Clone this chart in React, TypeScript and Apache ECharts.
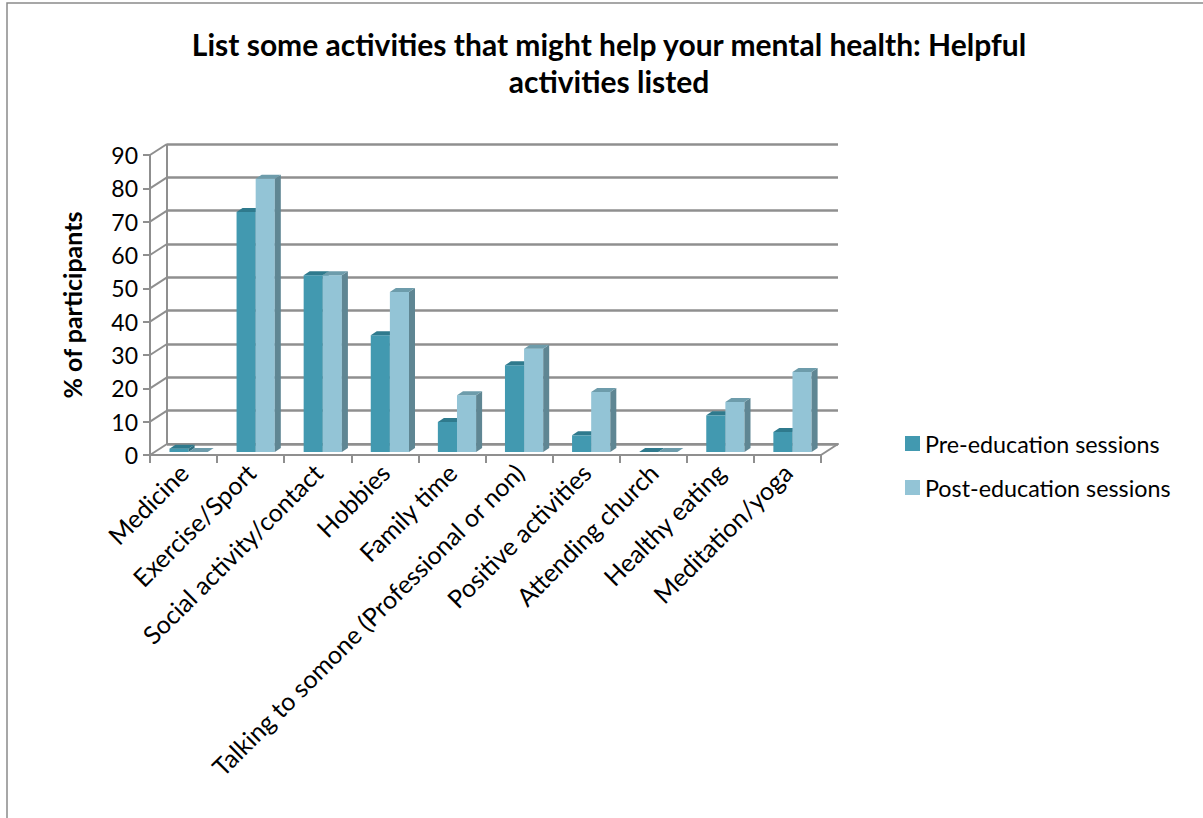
import React, { useEffect, useRef } from "react";
import * as echarts from "echarts";

const categories = [
  "Medicine",
  "Exercise/Sport",
  "Social activity/contact",
  "Hobbies",
  "Family time",
  "Talking to somone (Professional or non)",
  "Positive activities",
  "Attending church",
  "Healthy eating",
  "Meditation/yoga",
];
const preValues = [1, 72, 53, 35, 9, 26, 5, 0, 11, 6];
const postValues = [0, 82, 53, 48, 17, 31, 18, 0, 15, 24];
const seriesNames = ["Pre-education sessions", "Post-education sessions"];
const yTicks = [0, 10, 20, 30, 40, 50, 60, 70, 80, 90];

const FONT = "Lato, 'Open Sans', 'Noto Sans', sans-serif";
const GRID = "#8f8f8f";
const DX = 17;
const DY = -11;

const palettes = [
  { front: "#4299b0", top: "#2f7a8d", side: "#2f6f80" },
  { front: "#93c4d6", top: "#6d9cab", side: "#5f8693" },
];

function makeBarRender(which: number) {
  return (params: any, api: any) => {
    const idx = api.value(0);
    const val = api.value(1);
    const bw = api.size([1, 0])[0];
    const c = api.coord([idx, 0]);
    const t = api.coord([idx, val]);
    const w = bw * 0.285;
    const shift = bw * 0.075;
    const x0 = which === 0 ? c[0] - w + shift : c[0] + shift;
    const yb = c[1] - 3;
    const yt = t[1] - 3;
    const d = 6;
    const e = -4;
    const pal = palettes[which];
    const children: any[] = [];
    if (yb - yt > 0.5) {
      children.push({
        type: "rect",
        shape: { x: x0, y: yt, width: w, height: yb - yt },
        style: { fill: pal.front },
      });
      children.push({
        type: "polygon",
        shape: { points: [[x0 + w, yt], [x0 + w + d, yt + e], [x0 + w + d, yb + e], [x0 + w, yb]] },
        style: { fill: pal.side },
      });
    }
    children.push({
      type: "polygon",
      shape: { points: [[x0, yt], [x0 + d, yt + e], [x0 + w + d, yt + e], [x0 + w, yt]] },
      style: { fill: pal.top },
    });
    return { type: "group", children };
  };
}

function frameRender(params: any, api: any) {
  const bw = api.size([1, 0])[0];
  const n = categories.length;
  const left = api.coord([0, 0])[0] - bw / 2;
  const right = api.coord([n - 1, 0])[0] + bw / 2;
  const children: any[] = [];
  yTicks.forEach((v) => {
    const y = api.coord([0, v])[1];
    children.push({
      type: "line",
      shape: { x1: left, y1: y, x2: left + DX, y2: y + DY },
      style: { stroke: GRID, lineWidth: 2 },
    });
  });
  const y0 = api.coord([0, 0])[1];
  const y90 = api.coord([0, 90])[1];
  children.push({
    type: "line",
    shape: { x1: left + DX, y1: y0 + DY, x2: left + DX, y2: y90 + DY },
    style: { stroke: GRID, lineWidth: 2 },
  });
  children.push({
    type: "line",
    shape: { x1: right, y1: y0, x2: right + DX, y2: y0 + DY },
    style: { stroke: GRID, lineWidth: 2 },
  });
  return { type: "group", children };
}

export default function App() {
  const ref = useRef<HTMLDivElement>(null);
  useEffect(() => {
    if (!ref.current) return;
    const chart = echarts.init(ref.current, undefined, { renderer: "svg" });
    const gridLeft = 150;
    const gridTop = 155;
    const gridW = 671;
    const gridH = 300;
    chart.setOption({
      animation: false,
      backgroundColor: "#ffffff",
      graphic: [
        {
          type: "rect",
          shape: { x: 7, y: 3, width: 1300, height: 900 },
          style: { fill: "none", stroke: "#8a8a8a", lineWidth: 1.5 },
          silent: true,
        },
        {
          type: "text",
          x: 609,
          y: 25,
          style: {
            text: "List some activities that might help your mental health: Helpful\nactivities listed",
            font: `bold 30px ${FONT}`,
            fill: "#000",
            textAlign: "center",
            lineHeight: 37,
          },
        },
      ],
      legend: {
        orient: "vertical",
        left: 900,
        top: 427,
        itemGap: 21,
        itemWidth: 15,
        itemHeight: 15,
        icon: "rect",
        textStyle: { fontSize: 23.3, fontFamily: FONT, color: "#000" },
        data: [
          { name: seriesNames[0], itemStyle: { color: palettes[0].front } },
          { name: seriesNames[1], itemStyle: { color: palettes[1].front } },
        ],
      },
      grid: [
        { left: gridLeft, top: gridTop, width: gridW, height: gridH },
        { left: gridLeft + DX, top: gridTop + DY, width: gridW, height: gridH },
      ],
      xAxis: [
        {
          type: "category",
          gridIndex: 0,
          data: categories,
          boundaryGap: true,
          axisLine: { show: true, lineStyle: { color: GRID, width: 2 } },
          axisTick: { show: true, interval: 0, length: 8, lineStyle: { color: GRID, width: 2 } },
          axisLabel: {
            interval: 0,
            rotate: 45,
            margin: 13,
            fontSize: 25,
            fontFamily: FONT,
            color: "#000",
          },
        },
        {
          type: "category",
          gridIndex: 1,
          data: categories,
          show: true,
          axisLine: { show: true, lineStyle: { color: GRID, width: 2 } },
          axisTick: { show: false },
          axisLabel: { show: false },
        },
      ],
      yAxis: [
        {
          type: "value",
          gridIndex: 0,
          min: 0,
          max: 90,
          interval: 10,
          name: "% of participants",
          nameLocation: "middle",
          nameGap: 66,
          nameRotate: 90,
          nameTextStyle: { fontSize: 25, fontWeight: "bold", fontFamily: FONT, color: "#000" },
          axisLine: { show: true, lineStyle: { color: GRID, width: 2 } },
          axisTick: { show: true, length: 7, lineStyle: { color: GRID, width: 2 } },
          axisLabel: { fontSize: 23, fontFamily: FONT, color: "#000", margin: 12 },
          splitLine: { show: false },
        },
        {
          type: "value",
          gridIndex: 1,
          min: 0,
          max: 90,
          interval: 10,
          axisLine: { show: false },
          axisTick: { show: false },
          axisLabel: { show: false },
          splitLine: { show: true, lineStyle: { color: GRID, width: 2.5 } },
        },
      ],
      series: [
        {
          type: "custom",
          name: "frame",
          xAxisIndex: 0,
          yAxisIndex: 0,
          renderItem: frameRender,
          data: [[0, 0]],
          silent: true,
          z: 1,
        },
        {
          type: "custom",
          name: seriesNames[0],
          xAxisIndex: 0,
          yAxisIndex: 0,
          renderItem: makeBarRender(0),
          itemStyle: { color: palettes[0].front },
          data: preValues.map((v, i) => [i, v]),
          z: 3,
        },
        {
          type: "custom",
          name: seriesNames[1],
          xAxisIndex: 0,
          yAxisIndex: 0,
          renderItem: makeBarRender(1),
          itemStyle: { color: palettes[1].front },
          data: postValues.map((v, i) => [i, v]),
          z: 4,
        },
      ],
    });
    return () => chart.dispose();
  }, []);
  return (
    <div
      ref={ref}
      style={{ position: "fixed", left: 0, top: 0, width: 1203, height: 818 }}
    />
  );
}
